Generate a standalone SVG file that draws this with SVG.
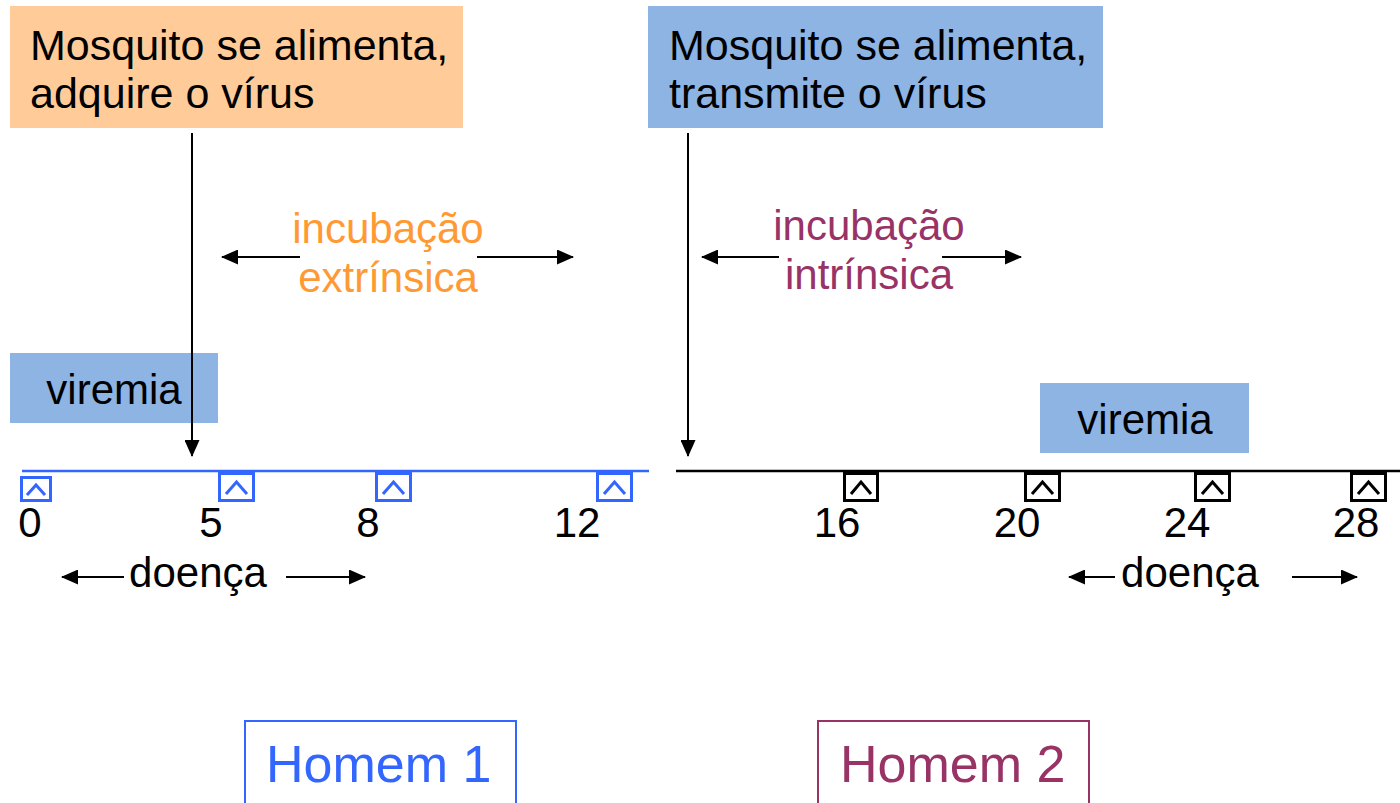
<svg xmlns="http://www.w3.org/2000/svg" width="1400" height="803" viewBox="0 0 1400 803">
<style>
text{font-family:"Liberation Sans",Arial,sans-serif;font-size:42px;fill:#000}
.big{font-size:43px}
.orange{fill:#FF9933}
.purple{fill:#993366}
.blue{fill:#3366FF}
.ln{stroke:#000;stroke-width:2;fill:none}
.tb{fill:#fff;stroke:#3366FF;stroke-width:3}
.tk{fill:#fff;stroke:#000;stroke-width:3}
.cb{fill:none;stroke:#3366FF;stroke-width:3}
.ck{fill:none;stroke:#000;stroke-width:3}
</style>
<defs>
<marker id="ah" markerUnits="userSpaceOnUse" markerWidth="17" markerHeight="15" refX="16" refY="7.5" orient="auto">
<path d="M0,0 L17,7.5 L0,15 Z" fill="#000"/>
</marker>
</defs>
<rect width="1400" height="803" fill="#fff"/>

<g id="node-adquire">
<rect x="10" y="6" width="453" height="122" fill="#FFCC99"/>
<text class="big" x="30" y="60">Mosquito se alimenta,</text>
<text class="big" x="30" y="108">adquire o vírus</text>
</g>
<g id="node-transmite">
<rect x="648" y="6" width="455" height="122" fill="#8EB4E3"/>
<text class="big" x="669" y="60">Mosquito se alimenta,</text>
<text class="big" x="669" y="108">transmite o vírus</text>
</g>
<g id="node-viremia1">
<rect x="10" y="353" width="208" height="70" fill="#8EB4E3"/>
<text x="114" y="404" text-anchor="middle">viremia</text>
</g>
<g id="node-viremia2">
<rect x="1040" y="383" width="209" height="70" fill="#8EB4E3"/>
<text x="1145" y="434" text-anchor="middle">viremia</text>
</g>
<g id="node-incub-ext">
<text class="orange" x="388" y="243" text-anchor="middle">incubação</text>
<text class="orange" x="388" y="292" text-anchor="middle">extrínsica</text>
</g>
<g id="node-incub-int">
<text class="purple" x="869" y="240" text-anchor="middle">incubação</text>
<text class="purple" x="869" y="289" text-anchor="middle">intrínsica</text>
</g>
<g id="node-timeline1">
<line x1="22" y1="471" x2="649" y2="471" stroke="#3366FF" stroke-width="2.5"/>
<rect class="tb" x="21.5" y="477.5" width="29" height="23"/>
<polyline class="cb" points="27,495 36,485 45,495"/>
<rect class="tb" x="219.5" y="473.5" width="34" height="27"/>
<polyline class="cb" points="226,494 236.5,482 247,494"/>
<rect class="tb" x="376.5" y="473.5" width="34" height="27"/>
<polyline class="cb" points="383,494 393.5,482 404,494"/>
<rect class="tb" x="597.5" y="473.5" width="34" height="27"/>
<polyline class="cb" points="604,494 614.5,482 625,494"/>
<text x="30" y="537" text-anchor="middle">0</text>
<text x="211" y="537" text-anchor="middle">5</text>
<text x="368" y="537" text-anchor="middle">8</text>
<text x="577" y="537" text-anchor="middle">12</text>
<text x="198" y="587" text-anchor="middle">doença</text>
</g>
<g id="node-timeline2">
<line x1="676" y1="471" x2="1400" y2="471" stroke="#000" stroke-width="2.5"/>
<rect class="tk" x="844.5" y="473.5" width="33" height="27"/>
<polyline class="ck" points="851,494 861,482 871,494"/>
<rect class="tk" x="1025.5" y="473.5" width="34" height="27"/>
<polyline class="ck" points="1032,494 1042.5,482 1053,494"/>
<rect class="tk" x="1195.5" y="473.5" width="34" height="27"/>
<polyline class="ck" points="1202,494 1212.5,482 1223,494"/>
<rect class="tk" x="1351.5" y="473.5" width="34" height="27"/>
<polyline class="ck" points="1358,494 1368.5,482 1379,494"/>
<text x="837" y="537" text-anchor="middle">16</text>
<text x="1017" y="537" text-anchor="middle">20</text>
<text x="1187" y="537" text-anchor="middle">24</text>
<text x="1356" y="537" text-anchor="middle">28</text>
<text x="1190" y="587" text-anchor="middle">doença</text>
</g>
<g id="node-homem1">
<rect x="245" y="721" width="271" height="100" fill="#fff" stroke="#3366FF" stroke-width="2"/>
<text class="blue" x="266" y="782" style="font-size:52px">Homem 1</text>
</g>
<g id="node-homem2">
<rect x="818" y="721" width="271" height="100" fill="#fff" stroke="#993366" stroke-width="2"/>
<text class="purple" x="840" y="782" style="font-size:52px">Homem 2</text>
</g>

<g id="connectors">
<line class="ln" x1="192" y1="133" x2="192" y2="456" marker-end="url(#ah)"/>
<line class="ln" x1="688" y1="133" x2="688" y2="456" marker-end="url(#ah)"/>
<line class="ln" x1="300" y1="257" x2="222" y2="257" marker-end="url(#ah)"/>
<line class="ln" x1="477" y1="257" x2="573" y2="257" marker-end="url(#ah)"/>
<line class="ln" x1="779" y1="257" x2="702" y2="257" marker-end="url(#ah)"/>
<line class="ln" x1="942" y1="257" x2="1021" y2="257" marker-end="url(#ah)"/>
<line class="ln" x1="124" y1="577" x2="62" y2="577" marker-end="url(#ah)"/>
<line class="ln" x1="286" y1="577" x2="365" y2="577" marker-end="url(#ah)"/>
<line class="ln" x1="1115" y1="577" x2="1069" y2="577" marker-end="url(#ah)"/>
<line class="ln" x1="1292" y1="577" x2="1357" y2="577" marker-end="url(#ah)"/>
</g>
</svg>
